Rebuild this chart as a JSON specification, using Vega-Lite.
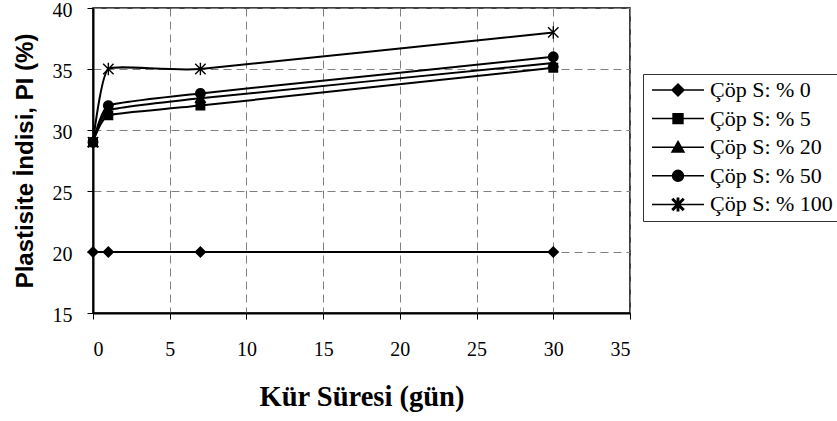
{
  "$schema": "https://vega.github.io/schema/vega-lite/v6.json",
  "width": 537,
  "height": 305,
  "autosize": {"type": "none"},
  "padding": {"left": 93, "top": 8, "right": 207, "bottom": 108},
  "background": "white",
  "config": {
    "font": "Liberation Serif",
    "view": {"stroke": "#000", "strokeWidth": 1.5},
    "axis": {
      "labelFont": "Liberation Serif",
      "labelFontSize": 20,
      "labelColor": "black",
      "tickColor": "black",
      "tickSize": 6,
      "tickWidth": 1,
      "domainColor": "black",
      "domainWidth": 2,
      "grid": true,
      "gridColor": "#808080",
      "gridDash": [8, 5],
      "gridWidth": 1,
      "titleColor": "black"
    },
    "legend": {
      "orient": "none",
      "legendX": 550,
      "legendY": 66,
      "strokeColor": "#333",
      "fillColor": "white",
      "padding": 4,
      "labelFont": "Liberation Serif",
      "labelFontSize": 22,
      "labelColor": "black",
      "labelOffset": 5,
      "labelLimit": 300,
      "rowPadding": 4.6,
      "clipHeight": 24,
      "symbolSize": 2704,
      "symbolOffset": 4,
      "symbolStrokeWidth": 1.5,
      "symbolStrokeColor": "black",
      "symbolFillColor": "black"
    }
  },
  "data": {
    "values": [
      {"series": "Çöp S: % 0", "day": 0, "pi": 20},
      {"series": "Çöp S: % 0", "day": 1, "pi": 20},
      {"series": "Çöp S: % 0", "day": 7, "pi": 20},
      {"series": "Çöp S: % 0", "day": 30, "pi": 20},
      {"series": "Çöp S: % 5", "day": 0, "pi": 29},
      {"series": "Çöp S: % 5", "day": 1, "pi": 31.2},
      {"series": "Çöp S: % 5", "day": 7, "pi": 32},
      {"series": "Çöp S: % 5", "day": 30, "pi": 35.1},
      {"series": "Çöp S: % 20", "day": 0, "pi": 29},
      {"series": "Çöp S: % 20", "day": 1, "pi": 31.6},
      {"series": "Çöp S: % 20", "day": 7, "pi": 32.6},
      {"series": "Çöp S: % 20", "day": 30, "pi": 35.5},
      {"series": "Çöp S: % 50", "day": 0, "pi": 29},
      {"series": "Çöp S: % 50", "day": 1, "pi": 32},
      {"series": "Çöp S: % 50", "day": 7, "pi": 33},
      {"series": "Çöp S: % 50", "day": 30, "pi": 36},
      {"series": "Çöp S: % 100", "day": 0, "pi": 29},
      {"series": "Çöp S: % 100", "day": 1, "pi": 35},
      {"series": "Çöp S: % 100", "day": 7, "pi": 35},
      {"series": "Çöp S: % 100", "day": 30, "pi": 38}
    ]
  },
  "encoding": {
    "x": {
      "field": "day",
      "type": "quantitative",
      "scale": {"domain": [0, 35], "nice": false},
      "axis": {
        "values": [0, 5, 10, 15, 20, 25, 30, 35],
        "title": "Kür Süresi (gün)",
        "labelFont": "Liberation Serif",
        "titleFont": "Liberation Serif",
        "titleFontSize": 28.5,
        "titleFontWeight": "bold",
        "labelPadding": 20,
        "titlePadding": 23
      }
    },
    "y": {
      "field": "pi",
      "type": "quantitative",
      "scale": {"domain": [15, 40], "zero": false, "nice": false},
      "axis": {
        "values": [15, 20, 25, 30, 35, 40],
        "title": "Plastisite İndisi, PI (%)",
        "labelFont": "Liberation Serif",
        "titleFont": "Liberation Sans",
        "titleFontSize": 24,
        "titleFontWeight": "bold",
        "labelPadding": 15,
        "labelOffset": 2,
        "titlePadding": 15
      }
    }
  },
  "layer": [
    {
      "mark": {"type": "line", "strokeWidth": 2, "interpolate": "cardinal", "tension": 0.6},
      "encoding": {
        "stroke": {
          "field": "series",
          "type": "nominal",
          "scale": {
            "domain": ["Çöp S: % 0", "Çöp S: % 5", "Çöp S: % 20", "Çöp S: % 50", "Çöp S: % 100"],
            "range": ["black", "black", "black", "black", "black"]
          },
          "legend": {"title": null}
        }
      }
    },
    {
      "mark": {"type": "point", "filled": true, "opacity": 1, "color": "black", "size": 2704},
      "encoding": {
        "shape": {
          "field": "series",
          "type": "nominal",
          "scale": {
            "domain": ["Çöp S: % 0", "Çöp S: % 5", "Çöp S: % 20", "Çöp S: % 50", "Çöp S: % 100"],
            "range": [
              "M-1,0H1M0,-0.23L0.23,0L0,0.23L-0.23,0Z",
              "M-1,0H1M-0.19,-0.19H0.19V0.19H-0.19Z",
              "M-1,0H1M0,-0.22L0.23,0.18L-0.23,0.18Z",
              "M-1,0H1M0.21,0L0.194,0.08L0.148,0.148L0.08,0.194L0,0.21L-0.08,0.194L-0.148,0.148L-0.194,0.08L-0.21,0L-0.194,-0.08L-0.148,-0.148L-0.08,-0.194L0,-0.21L0.08,-0.194L0.148,-0.148L0.194,-0.08Z",
              "M-1,0H1M-0.027,-0.24H0.027V0.24H-0.027ZM-0.181,-0.219L0.219,0.181L0.181,0.219L-0.219,-0.181ZM0.219,-0.181L-0.181,0.219L-0.219,0.181L0.181,-0.219Z"
            ]
          },
          "legend": {"title": null}
        }
      }
    }
  ]
}
